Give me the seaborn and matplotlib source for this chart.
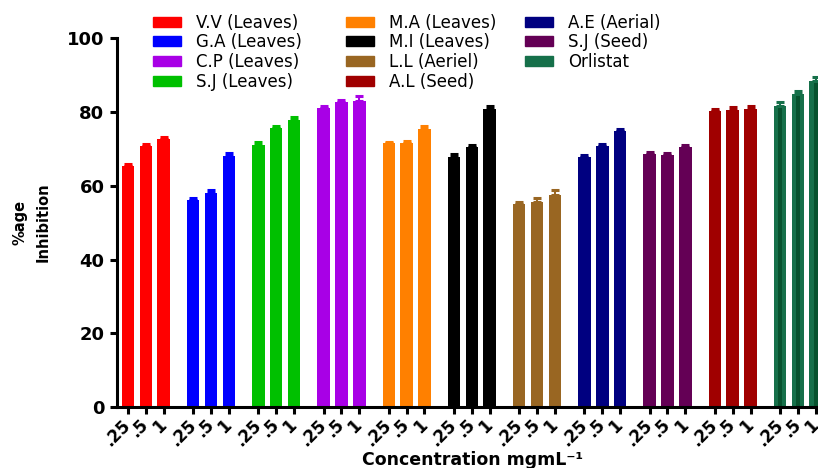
# Importaciones
import numpy as np
import pandas as pd
import matplotlib
matplotlib.use("Agg")
import matplotlib.pyplot as plt
import seaborn as sns
from matplotlib.patches import Patch

# Datos
grupos = ["V.V (Leaves)", "G.A (Leaves)", "S.J (Leaves)", "C.P (Leaves)", "M.A (Leaves)",
          "M.I (Leaves)", "L.L (Aeriel)", "A.E (Aerial)", "S.J (Seed)", "A.L (Seed)", "Orlistat"]
concentraciones = [".25", ".5", "1"]
inhibicion_025 = [65.3, 56.2, 71.1, 81.1, 71.5, 67.8, 55.0, 67.8, 68.7, 80.3, 81.7]
inhibicion_05 = [70.7, 58.1, 75.6, 82.7, 71.6, 70.5, 55.7, 70.8, 68.3, 80.5, 85.0]
inhibicion_1 = [72.6, 68.1, 77.8, 83.0, 75.3, 80.9, 57.5, 74.8, 70.5, 80.9, 88.3]
error_025 = [0.5, 0.5, 0.8, 0.6, 0.4, 0.8, 0.6, 0.6, 0.5, 0.6, 0.9]
error_05 = [0.5, 0.8, 0.5, 0.5, 0.5, 0.5, 0.9, 0.6, 0.6, 0.8, 0.7]
error_1 = [0.5, 0.8, 0.8, 1.3, 1.0, 0.6, 1.4, 0.5, 0.5, 0.7, 1.2]
colores = ["#ff0000", "#0000ff", "#00c000", "#a800e6", "#ff8000", "#000000",
           "#996622", "#000080", "#640055", "#a00000", "#16704a"]
orden_leyenda = [["V.V (Leaves)", "G.A (Leaves)", "C.P (Leaves)", "S.J (Leaves)"],
                 ["M.A (Leaves)", "M.I (Leaves)", "L.L (Aeriel)", "A.L (Seed)"],
                 ["A.E (Aerial)", "S.J (Seed)", "Orlistat"]]
color_centro_orlistat = "#07522e"

# Tabla larga
periodo = 3.66
filas = []
for g, grupo in enumerate(grupos):
    valores = [inhibicion_025[g], inhibicion_05[g], inhibicion_1[g]]
    errores = [error_025[g], error_05[g], error_1[g]]
    for j, conc in enumerate(concentraciones):
        filas.append({"grupo": grupo, "conc": conc, "pos": g * periodo + j,
                      "valor": valores[j], "error": errores[j]})
df = pd.DataFrame(filas)
paleta = dict(zip(grupos, colores))

sns.set_style("ticks")
plt.rcParams["font.family"] = ["DejaVu Sans"]
plt.rcParams.update({"text.color": "black", "axes.labelcolor": "black",
                     "xtick.color": "black", "ytick.color": "black",
                     "axes.edgecolor": "black"})

fig = plt.figure(figsize=(8.18, 4.68), dpi=100)
ax = fig.add_axes([0.143, 0.1303, 0.876, 0.788])

sns.barplot(data=df, x="pos", y="valor", hue="grupo", palette=paleta, native_scale=True,
            errorbar=None, width=0.7, legend=False, saturation=1, linewidth=0, ax=ax)

# Barras de error (solo hacia arriba)
for grupo in grupos:
    sub = df[df["grupo"] == grupo]
    ax.errorbar(sub["pos"], sub["valor"], yerr=[np.zeros(len(sub)), sub["error"]],
                fmt="none", ecolor=paleta[grupo], elinewidth=1.5, capsize=2.8, capthick=2.2)

# Franja central oscura en Orlistat
sub_orl = df[df["grupo"] == "Orlistat"]
ax.bar(sub_orl["pos"], sub_orl["valor"], width=0.22, color=color_centro_orlistat,
       edgecolor="none", linewidth=0)

# Ejes
ax.set_ylim(0, 100)
ax.set_xlim(-0.62, 39.6)
ax.set_yticks([0, 20, 40, 60, 80, 100])
ax.set_xticks(df["pos"])
ax.set_xticklabels(df["conc"], rotation=45, ha="right", va="center", rotation_mode="anchor")
ax.tick_params(axis="y", length=5, width=2.2, labelsize=13, pad=4)
ax.tick_params(axis="x", length=5, width=2.2, labelsize=12, pad=6)
for lab in ax.get_yticklabels() + ax.get_xticklabels():
    lab.set_fontweight("bold")
sns.despine(ax=ax)
ax.spines["left"].set_linewidth(2.2)
ax.spines["bottom"].set_linewidth(2.2)

ax.set_ylabel("%age\nInhibition", fontsize=10.5, fontweight="bold", linespacing=1.7)
ax.yaxis.set_label_coords(-0.092, 0.5)
ax.set_xlabel("Concentration mgmL⁻¹", fontsize=12.5, fontweight="bold")
ax.xaxis.set_label_coords(0.496, -0.118)

# Leyenda en tres columnas
x_columnas = [153 / 818, 346 / 818, 525 / 818]
for k, columna in enumerate(orden_leyenda):
    manejadores = [Patch(color=paleta[nombre]) for nombre in columna]
    fig.legend(manejadores, columna, loc="upper left", bbox_to_anchor=(x_columnas[k], 0.971),
               frameon=False, fontsize=12, handlelength=1.7, handleheight=0.55,
               handletextpad=0.9, labelspacing=0.1, borderpad=0, borderaxespad=0)

fig.savefig("out.png", dpi=100)
